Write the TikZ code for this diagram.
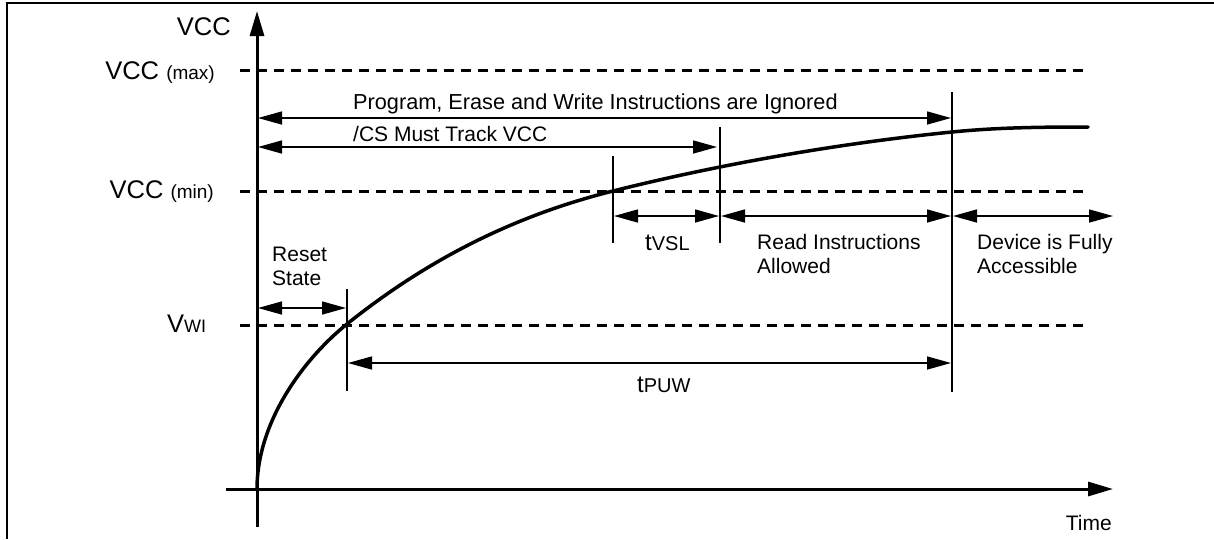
\documentclass[tikz,border=0pt]{standalone}
\usepackage{fontspec}
\setmainfont{Liberation Sans}
\usetikzlibrary{arrows.meta}
\begin{document}
\begin{tikzpicture}[x=1pt,y=-1pt,
  frame/.style={line width=2.6pt},
  axis/.style={line width=3pt,-{Triangle[length=25pt,width=14pt]}},
  level/.style={line width=3pt,dash pattern=on 10pt off 7pt},
  marker/.style={line width=2pt},
  twoarrow/.style={line width=1.5pt,{Triangle[length=24pt,width=13pt]}-{Triangle[length=24pt,width=13pt]}},
  curve/.style={line width=3.5pt,line cap=round},
  lbl/.style={inner sep=0pt,font=\fontsize{21}{24}\selectfont},
  big/.style={inner sep=0pt,font=\fontsize{25.5}{28}\selectfont},
  mlbl/.style={inner sep=0pt,font=\fontsize{21}{24}\selectfont,align=left}
]
\useasboundingbox (0,0) rectangle (1214,539);
% frame
\draw[frame] (7,539) -- (7,3) -- (1214,3);
% axes
\coordinate (ybot) at (257,527);
\coordinate (ytop) at (257,11);
\coordinate (xleft) at (226,489);
\coordinate (xright) at (1113,489);
\draw[axis] (ybot) -- (ytop);
\draw[axis] (xleft) -- (xright);
% level lines
\coordinate (maxL) at (240,70);  \coordinate (maxR) at (1088,70);
\coordinate (minL) at (240,191); \coordinate (minR) at (1088,191);
\coordinate (vwiL) at (240,325); \coordinate (vwiR) at (1088,325);
\draw[level] (maxL) -- (maxR);
\draw[level] (minL) -- (minR);
\draw[level] (vwiL) -- (vwiR);
% curve
\coordinate (c0) at (257,489);
\coordinate (c1) at (347,324);
\coordinate (c2) at (613,191);
\coordinate (c3) at (952,132);
\coordinate (c4) at (1088,127);
\draw[curve] (c0) .. controls (257,419) and (307,356) .. (c1)
  .. controls (427,260) and (513,216) .. (c2)
  .. controls (723,163.5) and (842,143) .. (c3)
  .. controls (997,127.5) and (1040,127) .. (c4);
% marker lines
\coordinate (m1t) at (347,289); \coordinate (m1b) at (347,391);
\coordinate (m2t) at (613,156); \coordinate (m2b) at (613,243);
\coordinate (m3t) at (720,127); \coordinate (m3b) at (720,243);
\coordinate (m4t) at (952,92);  \coordinate (m4b) at (952,392);
\draw[marker] (m1t) -- (m1b);
\draw[marker] (m2t) -- (m2b);
\draw[marker] (m3t) -- (m3b);
\draw[marker] (m4t) -- (m4b);
% arrows
\coordinate (pa) at (258,118); \coordinate (pb) at (951,118);
\coordinate (ca) at (258,147); \coordinate (cb) at (717,147);
\coordinate (va) at (614,216); \coordinate (vb) at (719,216);
\coordinate (ra) at (721,216); \coordinate (rb) at (951,216);
\coordinate (da) at (953,216); \coordinate (db) at (1113,216);
\coordinate (sa) at (258,308); \coordinate (sb) at (346,308);
\coordinate (ua) at (348,363); \coordinate (ub) at (951,363);
\draw[twoarrow] (pa) -- (pb);
\draw[twoarrow] (ca) -- (cb);
\draw[twoarrow] (va) -- (vb);
\draw[twoarrow] (ra) -- (rb);
\draw[twoarrow] (da) -- (db);
\draw[twoarrow] (sa) -- (sb);
\draw[twoarrow] (ua) -- (ub);
% labels
\node[big,anchor=base east] (vcc) at (231,35) {VCC};
\node[big,anchor=base east] (vccmax) at (215,79) {VCC {\fontsize{19}{22}\selectfont (max)}};
\node[big,anchor=base east] (vccmin) at (214,198) {VCC {\fontsize{19}{22}\selectfont (min)}};
\node[big,anchor=base west] (vwi) at (167,332) {V{\fontsize{18}{20}\selectfont WI}};
\node[lbl,anchor=base west,font=\fontsize{21.7}{24}\selectfont] (prog) at (353,109) {Program, Erase and Write Instructions are Ignored};
\node[lbl,anchor=base west] (cs) at (353,141) {/CS Must Track VCC};
\node[big,anchor=base west,font=\fontsize{24}{26}\selectfont] (tvsl) at (645,250) {t{\fontsize{20}{22}\selectfont VSL}};
\node[mlbl,anchor=north west] (read) at (757,234) {Read Instructions\\Allowed};
\node[mlbl,anchor=north west] (dev) at (977,234) {Device is Fully\\Accessible};
\node[mlbl,anchor=north west] (reset) at (272,247) {Reset\\State};
\node[big,anchor=base west,font=\fontsize{24}{26}\selectfont] (tpuw) at (637,392) {t{\fontsize{20}{22}\selectfont PUW}};
\node[lbl,anchor=base east] (time) at (1112,530) {Time};
\end{tikzpicture}
\end{document}
